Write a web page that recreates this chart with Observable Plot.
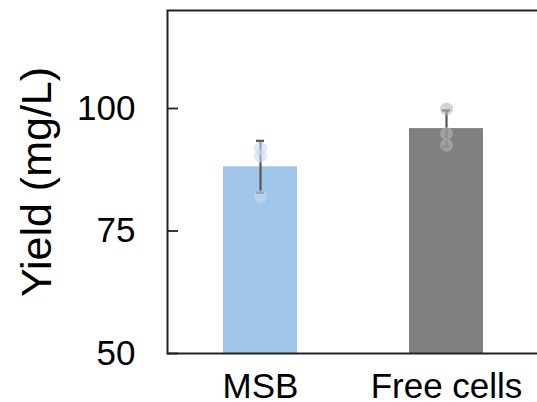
<!DOCTYPE html>
<html>
<head>
<meta charset="utf-8">
<script src="https://cdn.jsdelivr.net/npm/d3@7"></script>
<script src="https://cdn.jsdelivr.net/npm/@observablehq/plot@0.6"></script>
<style>
  html, body { margin: 0; padding: 0; background: #fff; }
  svg { display: block; }
</style>
</head>
<body>
<div id="chart"></div>
<script>
const categories = ["MSB", "Free cells"];
const means = [88.1, 95.9];
const sds = [5.3, 3.7];
const replicates = [
  [91.9, 90.3, 82.0],
  [99.9, 94.9, 92.5]
];
const colors = ["#9fc5e8", "#808080"];
const pointColors = ["#c4dbf0", "#b5b5b5"];
const yTicks = [50, 75, 100];
const yDomain = [50, 120];

const bars = categories.map((c, i) => ({cat: c, mean: means[i], lo: means[i] - sds[i], hi: means[i] + sds[i], color: colors[i]}));
const points = categories.flatMap((c, i) => replicates[i].map(v => ({cat: c, value: v, color: pointColors[i]})));

const font = "'Liberation Sans', Arial, sans-serif";

const chart = Plot.plot({
  width: 537,
  height: 402,
  marginLeft: 167,
  marginRight: -3,
  marginTop: 10,
  marginBottom: 49,
  style: {fontFamily: font, background: "#fff"},
  x: {domain: categories, paddingInner: 0.6, paddingOuter: 0.3, label: null, axis: null},
  y: {domain: yDomain, label: null, axis: null},
  marks: [
    Plot.barY(bars, {x: "cat", y1: yDomain[0], y2: "mean", fill: "color"}),
    Plot.ruleX(bars, {x: "cat", y1: "lo", y2: "hi", stroke: "#555", strokeWidth: 2.2}),
    Plot.tickY(bars, {x: "cat", y: "hi", stroke: "#555", strokeWidth: 2.2, insetLeft: 33, insetRight: 33}),
    Plot.tickY(bars, {x: "cat", y: "lo", stroke: "#555", strokeWidth: 2.2, insetLeft: 33, insetRight: 33}),
    Plot.dot(points, {x: "cat", y: "value", r: 6.5, fill: "color", fillOpacity: 0.6, stroke: null}),
    Plot.frame({stroke: "#222", strokeWidth: 2}),
    Plot.axisY(yTicks, {tickSize: 11, dx: 11, tickFormat: () => "", stroke: "#222", strokeWidth: 1.8}),
    Plot.text(yTicks, {y: d => d, frameAnchor: "left", dx: -32, textAnchor: "end", lineAnchor: "middle", fontSize: 35, fill: "#000"}),
    Plot.text(categories, {x: d => d, frameAnchor: "bottom", dy: 44, lineAnchor: "bottom", fontSize: 35, fill: "#000"}),
    Plot.text(["Yield (mg/L)"], {frameAnchor: "left", dx: -117, rotate: -90, fontSize: 43, textAnchor: "middle", lineAnchor: "bottom", fill: "#000"})
  ]
});
document.getElementById("chart").appendChild(chart);
</script>
</body>
</html>
